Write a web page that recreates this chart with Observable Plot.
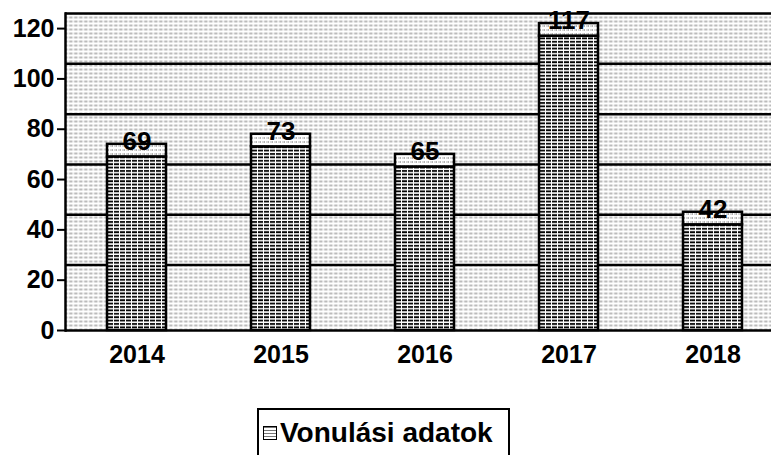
<!DOCTYPE html>
<html>
<head>
<meta charset="utf-8">
<script src="https://cdn.jsdelivr.net/npm/d3@7"></script>
<script src="https://cdn.jsdelivr.net/npm/@observablehq/plot@0.6"></script>
<style>
  html, body { margin: 0; padding: 0; background: #fff; }
  body { width: 771px; height: 455px; overflow: hidden; font-family: "Liberation Sans", Arial, sans-serif; }
  #chart { width: 771px; height: 400px; overflow: hidden; }
  #chart svg { max-width: none !important; width: 784px; height: 400px; }
  #legend {
    position: absolute; left: 257px; top: 408px; width: 253px; height: 60px;
    border: 2px solid #000; border-bottom: none; box-sizing: border-box;
    font-weight: bold; font-size: 28px; color: #000; line-height: 1;
    display: flex; align-items: flex-start; padding: 9px 0 0 4px; gap: 3px;
  }
  #legend .sw { flex: none; width: 14px; height: 14px; border: 1.5px solid #000; margin-top: 7px; box-sizing: border-box;
    background: repeating-linear-gradient(0deg, #fff 0 2px, #777 2px 3px); }
</style>
</head>
<body>
<div id="chart"></div>
<div id="legend"><span class="sw"></span><span>Vonulási adatok</span></div>
<script>
const years = ["2014", "2015", "2016", "2017", "2018"];
const values = [69, 73, 65, 117, 42];
const yTicks = [0, 20, 40, 60, 80, 100, 120];
const backWall = [26, 46, 66, 86, 106];
const depth = 5;

const data = years.map((y, i) => ({year: y, value: values[i]}));

const chart = Plot.plot({
  width: 784,
  height: 400,
  marginLeft: 65,
  marginRight: 0,
  marginTop: 13,
  marginBottom: 70,
  style: {fontFamily: "'Liberation Sans', Arial, sans-serif", background: "#fff", color: "#000", maxWidth: "none"},
  x: {domain: years, paddingInner: 0.59, paddingOuter: 0.285, label: null},
  y: {domain: [0, 126], label: null},
  marks: [
    Plot.frame({fill: "url(#bgpat)", stroke: null}),
    Plot.ruleY(backWall, {stroke: "#000", strokeWidth: 2.5}),
    Plot.barY(data, {x: "year", y: "value", fill: "url(#barpat)", stroke: "#000", strokeWidth: 2.5}),
    Plot.barY(data, {x: "year", y1: "value", y2: d => d.value + depth, fill: "url(#cappat)", stroke: "#000", strokeWidth: 2.5}),
    Plot.text(data, {x: "year", y: d => d.value + depth, text: d => String(d.value), fontSize: 26, fontWeight: "bold", fill: "#000", dy: -3}),
    Plot.ruleY([126], {stroke: "#000", strokeWidth: 2.5}),
    Plot.ruleY([0], {stroke: "#000", strokeWidth: 2.5}),
    Plot.frame({anchor: "left", stroke: "#000", strokeWidth: 2.5}),
    Plot.axisY({ticks: yTicks, tickSize: 8, tickPadding: 3, fontSize: 25, fontWeight: "bold", label: null, strokeWidth: 2}),
    Plot.axisX({tickSize: 0, tickPadding: 15, fontSize: 25, fontWeight: "bold", label: null})
  ]
});

chart.insertAdjacentHTML("afterbegin", `
<defs>
  <pattern id="bgpat" patternUnits="userSpaceOnUse" width="5" height="4">
    <rect width="5" height="4" fill="#fff"/>
    <line x1="0" y1="1" x2="5" y2="1" stroke="#777" stroke-width="1" stroke-dasharray="2 1.5"/>
  </pattern>
  <pattern id="barpat" patternUnits="userSpaceOnUse" width="6" height="3.4">
    <rect width="6" height="3.4" fill="#fff"/>
    <line x1="0" y1="1" x2="6" y2="1" stroke="#000" stroke-width="1.8" stroke-dasharray="5 1"/>
  </pattern>
  <pattern id="cappat" patternUnits="userSpaceOnUse" width="4" height="4">
    <rect width="4" height="4" fill="#fff"/>
    <line x1="0" y1="2" x2="4" y2="2" stroke="#666" stroke-width="1" stroke-dasharray="1 1.5"/>
  </pattern>
</defs>`);

document.getElementById("chart").appendChild(chart);
</script>
</body>
</html>
